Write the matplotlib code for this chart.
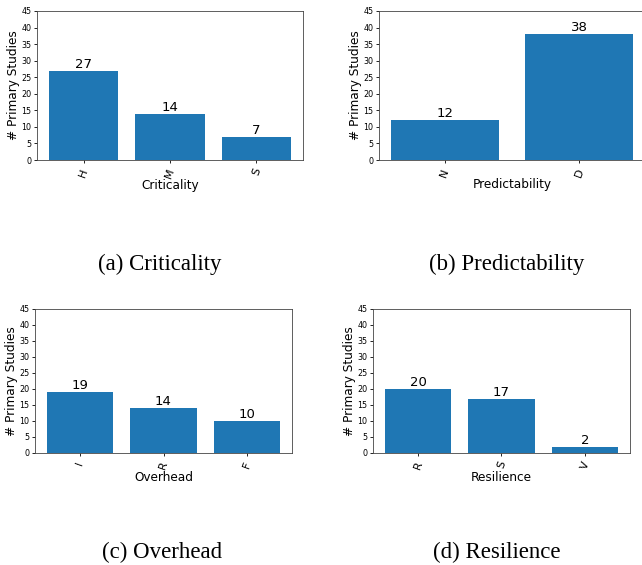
import matplotlib.pyplot as plt

crit_labels = ["H", "M", "S"]
crit_counts = [27, 14, 7]

pred_labels = ["N", "D"]
pred_counts = [12, 38]

over_labels = ["I", "R", "F"]
over_counts = [19, 14, 10]

res_labels = ["R", "S", "V"]
res_counts = [20, 17, 2]

W, H = 642, 565
fig = plt.figure(figsize=(W / 100, H / 100), dpi=100)


def add_panel(box, labels, counts, xlabel):
    left, top, right, bottom = box
    ax = fig.add_axes([left / W, 1 - bottom / H, (right - left) / W, (bottom - top) / H])
    x = range(len(labels))
    bars = ax.bar(x, counts, color="#1f77b4", width=0.8)
    for b, c in zip(bars, counts):
        ax.text(b.get_x() + b.get_width() / 2, c, str(c), ha="center", va="bottom", fontsize=9.5)
    ax.set_ylim(0, 45)
    ax.set_yticks(range(0, 46, 5))
    ax.set_xticks(list(x))
    ax.set_xticklabels(labels, rotation=70, fontsize=8)
    ax.tick_params(axis="y", labelsize=5.8, length=2.5, width=0.6, pad=1.5)
    ax.tick_params(axis="x", length=2.5, width=0.6, pad=2.5)
    ax.set_xlabel(xlabel, fontsize=8.7, labelpad=0)
    ax.set_ylabel("# Primary Studies", fontsize=8.7, labelpad=1)
    for s in ax.spines.values():
        s.set_linewidth(0.6)
        s.set_color("#444444")
    return ax


add_panel((37, 11, 303, 160), crit_labels, crit_counts, "Criticality")
add_panel((379, 11, 645, 160), pred_labels, pred_counts, "Predictability")
add_panel((35, 309, 292, 453), over_labels, over_counts, "Overhead")
add_panel((373, 309, 630, 453), res_labels, res_counts, "Resilience")

captions = [("(a) Criticality", 160, 264), ("(b) Predictability", 507, 264),
            ("(c) Overhead", 162, 552), ("(d) Resilience", 497, 552)]
for txt, cx, cy in captions:
    fig.text(cx / W, 1 - cy / H, txt, ha="center", va="center",
             fontsize=16.5, family="Liberation Serif")

fig.savefig("out.png", dpi=100)
